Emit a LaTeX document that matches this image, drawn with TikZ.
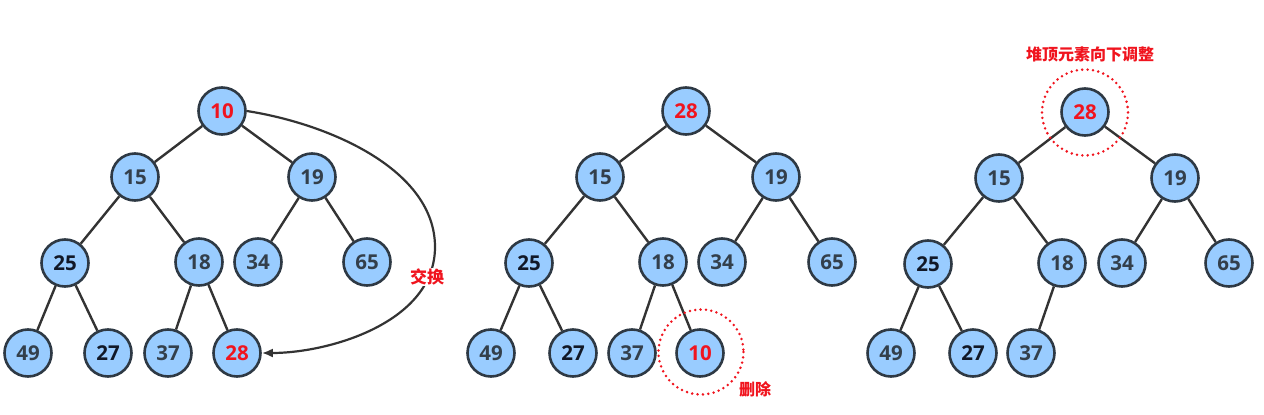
\documentclass[tikz,border=0pt]{standalone}
\usepackage{fontspec}
\setmainfont{Open Sans}
\newfontfamily\cjk{Noto Sans CJK SC}
\usetikzlibrary{arrows.meta}
\definecolor{nodefill}{HTML}{99CCFF}
\definecolor{nodeline}{HTML}{2E3944}
\definecolor{edgecol}{HTML}{333333}
\definecolor{numgray}{HTML}{333F4B}
\definecolor{numdark}{HTML}{111827}
\definecolor{hired}{HTML}{F0141E}
\begin{document}
\begin{tikzpicture}[x=1pt,y=-1pt,
  hn/.style={circle,draw=nodeline,fill=nodefill,line width=2.6pt,minimum size=47pt,inner sep=0pt,font=\fontsize{20.5}{20}\selectfont\bfseries,text=numgray},
  dk/.style={text=numdark},
  rd/.style={text=hired},
  edge/.style={draw=edgecol,line width=2.4pt},
  ring/.style={draw=hired,line width=2.8pt,dash pattern=on 0pt off 5.4pt,line cap=round},
  lab/.style={text=hired,font=\cjk\bfseries\fontsize{16}{16}\selectfont,inner sep=1pt}]
\useasboundingbox (0,0) rectangle (1264,415);
% ---------- tree 1 ----------
\node[hn,rd] (a10) at (222,111) {10};
\node[hn] (a15) at (135,177) {15};
\node[hn] (a19) at (312,177) {19};
\node[hn,dk] (a25) at (65,263) {25};
\node[hn] (a18) at (199,262) {18};
\node[hn] (a34) at (258,262) {34};
\node[hn] (a65) at (367,262) {65};
\node[hn] (a49) at (28,353) {49};
\node[hn,dk] (a27) at (108,353) {27};
\node[hn] (a37) at (168,353) {37};
\node[hn,rd] (a28) at (237,353) {28};
\foreach \p/\c in {a10/a15,a10/a19,a15/a25,a15/a18,a19/a34,a19/a65,a25/a49,a25/a27,a18/a37,a18/a28}
  \draw[edge] (\p) -- (\c);
\coordinate (swapmid) at (435,247);
\draw[edgecol,line width=2.2pt,-{Latex[length=11pt,width=9pt]}] (a10.east) .. controls (330,124) and (435,170) .. (swapmid) .. controls (435,322) and (330,353) .. (a28.east);
\node[lab,fill=white,font=\cjk\bfseries\fontsize{17}{17}\selectfont] (swap) at (427,277) {交换};
% ---------- tree 2 ----------
\node[hn,rd] (b28) at (686,111) {28};
\node[hn] (b15) at (600,177) {15};
\node[hn] (b19) at (776,177) {19};
\node[hn,dk] (b25) at (529,263) {25};
\node[hn] (b18) at (663,262) {18};
\node[hn] (b34) at (722,262) {34};
\node[hn] (b65) at (832,262) {65};
\node[hn] (b49) at (491,353) {49};
\node[hn,dk] (b27) at (573,353) {27};
\node[hn] (b37) at (632,353) {37};
\node[hn,rd] (b10) at (700,353) {10};
\foreach \p/\c in {b28/b15,b28/b19,b15/b25,b15/b18,b19/b34,b19/b65,b25/b49,b25/b27,b18/b37,b18/b10}
  \draw[edge] (\p) -- (\c);
\draw[ring] (701,352) circle[radius=42.5];
\node[lab] (del) at (755,389) {删除};
% ---------- tree 3 ----------
\node[hn,rd] (c28) at (1085,112) {28};
\node[hn] (c15) at (999,178) {15};
\node[hn] (c19) at (1175,178) {19};
\node[hn,dk] (c25) at (928,264) {25};
\node[hn] (c18) at (1062,263) {18};
\node[hn] (c34) at (1122,263) {34};
\node[hn] (c65) at (1229,263) {65};
\node[hn] (c49) at (891,353) {49};
\node[hn,dk] (c27) at (973,353) {27};
\node[hn] (c37) at (1031,353) {37};
\foreach \p/\c in {c28/c15,c28/c19,c15/c25,c15/c18,c19/c34,c19/c65,c25/c49,c25/c27,c18/c37}
  \draw[edge] (\p) -- (\c);
\draw[ring] (1085,112.5) circle[radius=43];
\node[lab] (adj) at (1090,54) {堆顶元素向下调整};
\end{tikzpicture}
\end{document}
